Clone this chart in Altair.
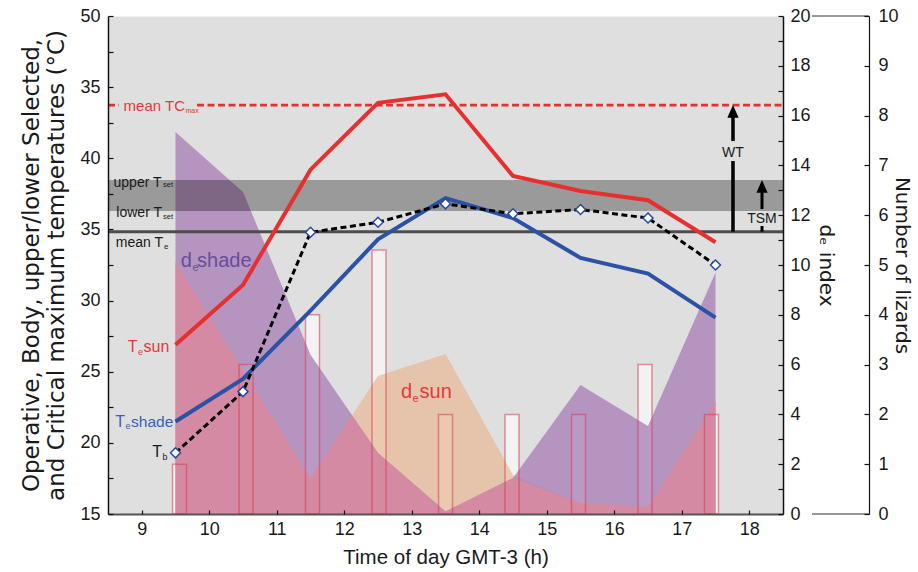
import altair as alt
import pandas as pd

# ---------------- data ----------------
hours = [9.5, 10.5, 11.5, 12.5, 13.5, 14.5, 15.5, 16.5, 17.5]
te_sun = [26.9, 31.1, 39.2, 43.9, 44.5, 38.75, 37.7, 37.05, 34.1]
te_shade = [21.5, 24.5, 29.3, 34.3, 37.2, 35.8, 33.0, 31.9, 28.8]
t_body = [19.3, 23.6, 34.8, 35.5, 36.8, 36.1, 36.4, 35.8, 32.5]
de_sun = [10.1, 5.78, 1.43, 5.54, 6.43, 1.57, 0.44, 0.28, 4.5]
de_shade = [15.34, 12.93, 6.4, 2.45, 0.1, 1.45, 5.18, 3.53, 9.7]
overlap_hours = [9.5, 10.5, 11.5, 12.11, 12.5, 13.5, 14.5, 15.5, 16.5, 17.5]
de_overlap = [10.1, 5.78, 1.43, 3.95, 2.45, 0.1, 1.45, 0.44, 0.28, 4.5]
n_lizards = [1, 3, 4, 5.3, 2, 2, 2, 3, 2]

tc_max_mean = 43.74
t_set_upper = 38.47
t_set_lower = 36.3
te_mean = 34.84

x_ticks = [9, 10, 11, 12, 13, 14, 15, 16, 17, 18]
temp_labels = [15, 20, 25, 30, 35, 40, 45, 50]
temp_ticks = [15, 17.5, 20, 22.5, 25, 27.5, 30, 32.5, 35, 37.5, 40, 42.5, 45, 47.5, 50]
de_labels = [0, 2, 4, 6, 8, 10, 12, 14, 16, 18, 20]
de_ticks = [0, 1, 2, 3, 4, 5, 6, 7, 8, 9, 10, 11, 12, 13, 14, 15, 16, 17, 18, 19, 20]
liz_ticks = [0, 1, 2, 3, 4, 5, 6, 7, 8, 9, 10]

y_title = ["Operative, Body, upper/lower Selected,", "and Critical maximum temperatures (°C)"]

# ---------------- helpers ----------------
FONT = "Liberation Sans"
XD, TD, DD, LD = [8.5, 18.5], [15, 50], [0, 20], [0, 10]
W, H = 675, 498
INK = "#1a1a1a"


def xenc(field="h", axis=None):
    return alt.X(field, type="quantitative",
                 scale=alt.Scale(domain=XD, nice=False, zero=False), axis=axis)


def yenc(field, dom, axis=None):
    return alt.Y(field, type="quantitative",
                 scale=alt.Scale(domain=dom, nice=False, zero=False), axis=axis)


common_lab = dict(labelFont=FONT, labelFontSize=18, labelColor=INK, grid=False,
                  zindex=1, titleFontWeight="normal", titleColor=INK, labelFlush=False)
tick_only = dict(domain=False, labels=False, title="", grid=False, zindex=1,
                 tickColor="#111111", tickWidth=1.2)

x_lab = alt.Axis(orient="bottom", values=x_ticks, ticks=False, tickSize=0, labelPadding=6,
                 domainColor="#555555", domainWidth=2, title="Time of day GMT-3 (h)",
                 titleFont=FONT, titleFontSize=20.5, titleBaseline="alphabetic",
                 titleAlign="center", titleX=W / 2, titleY=49, **common_lab)
x_tick = alt.Axis(orient="bottom", values=x_ticks, offset=-4, tickSize=4, **tick_only)

y_lab = alt.Axis(orient="left", values=temp_labels,
                 labelExpr="datum.value == 45 ? '35' : datum.label",
                 ticks=False, tickSize=0, labelPadding=8, domainColor="#111111", domainWidth=1.5,
                 title=y_title, titleFont="DejaVu Sans", titleFontSize=23, titleAngle=270,
                 titleAlign="center", titleBaseline="alphabetic", titleX=-70, titleY=H / 2,
                 titleLineHeight=25, **common_lab)
y_tick = alt.Axis(orient="left", values=temp_ticks, offset=-5, tickSize=5, **tick_only)

de_lab = alt.Axis(orient="right", values=de_labels, ticks=False, tickSize=0, labelPadding=7,
                  domainColor="#111111", domainWidth=1.5, title="dₑ index",
                  titleFont="DejaVu Sans", titleFontSize=20, titleAngle=90, titleAlign="center",
                  titleBaseline="alphabetic", titleX=36, titleY=H / 2, **common_lab)
de_tick = alt.Axis(orient="right", values=de_ticks, offset=-5, tickSize=5, **tick_only)

liz_lab = alt.Axis(orient="right", offset=86, values=liz_ticks, ticks=False, tickSize=0,
                   labelPadding=9, domainColor="#111111", domainWidth=1.2,
                   title="Number of lizards", titleFont="DejaVu Sans", titleFontSize=20,
                   titleAngle=90, titleAlign="center", titleBaseline="alphabetic",
                   titleX=26, titleY=H / 2, **common_lab)
liz_tick = alt.Axis(orient="right", offset=81, values=liz_ticks, tickSize=5, **tick_only)

df = pd.DataFrame({"h": hours, "te_sun": te_sun, "te_shade": te_shade, "tb": t_body,
                   "de_sun": de_sun, "de_shade": de_shade, "liz": n_lizards})
ov = pd.DataFrame({"h": overlap_hours, "de": de_overlap})

# ---------------- marks ----------------
bars_fill = alt.Chart(df).mark_bar(size=14, color="#f1f2f1").encode(
    x=xenc(), y=yenc("liz", LD, liz_lab))
area_sun = alt.Chart(df).mark_area(color="#e7bb9a", opacity=0.75).encode(
    x=xenc(), y=yenc("de_sun", DD, de_tick))
area_shade = alt.Chart(df).mark_area(color="#a77cb6", opacity=0.75).encode(
    x=xenc(), y=yenc("de_shade", DD, de_lab))
area_ov = alt.Chart(ov).mark_area(color="#d9899f", opacity=0.85).encode(
    x=xenc(), y=yenc("de", DD))
bars_line = alt.Chart(df).mark_bar(size=14, fill="#ffffff", fillOpacity=0, stroke="#d83a56",
                                   strokeOpacity=0.55, strokeWidth=1.5).encode(
    x=xenc(), y=yenc("liz", LD, liz_tick))

band_df = pd.DataFrame({"x0": [XD[0]], "x1": [XD[1]], "lo": [t_set_lower], "hi": [t_set_upper]})
band = alt.Chart(band_df).mark_rect(color="black", opacity=0.31).encode(
    x=xenc("x0"), x2="x1", y=yenc("lo", TD), y2="hi")

tc_df = pd.DataFrame({"x0": [8.5, 9.819], "x1": [8.663, 18.5], "y": [tc_max_mean, tc_max_mean]})
tc_rule = alt.Chart(tc_df).mark_rule(color="#e5302f", strokeWidth=2.8, strokeDash=[7, 3.5]).encode(
    x=xenc("x0"), x2="x1", y=yenc("y", TD))
te_df = pd.DataFrame({"x0": [XD[0]], "x1": [XD[1]], "y": [te_mean]})
te_rule = alt.Chart(te_df).mark_rule(color="#4d4d4d", strokeWidth=3).encode(
    x=xenc("x0"), x2="x1", y=yenc("y", TD))

line_sun = alt.Chart(df).mark_line(color="#e6302f", strokeWidth=4).encode(
    x=xenc(axis=x_lab), y=yenc("te_sun", TD, y_lab))
line_shade = alt.Chart(df).mark_line(color="#2c52a5", strokeWidth=4).encode(
    x=xenc(axis=x_tick), y=yenc("te_shade", TD, y_tick))
line_tb = alt.Chart(df).mark_line(color="black", strokeWidth=3, strokeDash=[6, 3.5]).encode(
    x=xenc(), y=yenc("tb", TD))
pts_tb = alt.Chart(df).mark_point(shape="diamond", size=100, filled=True, fill="white",
                                  stroke="#2a4aa0", strokeWidth=1.5, opacity=1).encode(
    x=xenc(), y=yenc("tb", TD))

# arrows (WT and TSM)
shaft_wt = pd.DataFrame({"x": [17.759, 17.759], "y0": [te_mean, 41.21], "y1": [39.81, 43.0]})
shaft_tsm = pd.DataFrame({"x": [18.189, 18.189], "y0": [te_mean, 36.43], "y1": [35.24, 38.0]})
wt_rule = alt.Chart(shaft_wt).mark_rule(color="black", strokeWidth=3.5).encode(
    x=xenc("x"), y=yenc("y0", TD), y2="y1")
tsm_rule = alt.Chart(shaft_tsm).mark_rule(color="black", strokeWidth=3).encode(
    x=xenc("x"), y=yenc("y0", TD), y2="y1")
heads_df = pd.DataFrame({"x": [17.759, 18.189], "y": [tc_max_mean, t_set_upper]})
heads = alt.Chart(heads_df).mark_point(shape="M0,0L-0.7,1.6L0.7,1.6Z", size=256, filled=True,
                                       color="black", opacity=1).encode(
    x=xenc("x"), y=yenc("y", TD))


def text_layer(rows, dom, size, color, align, font=FONT):
    d = pd.DataFrame(rows, columns=["t", "x", "y"])
    return alt.Chart(d).mark_text(align=align, baseline="alphabetic", fontSize=size,
                                  color=color, font=font).encode(
        x=xenc("x"), y=yenc("y", dom), text=alt.Text("t", type="nominal"))


RED, BLUE, PURPLE = "#e23a3a", "#3a5fb0", "#6a4c9c"
texts = [
    text_layer([("mean TC", 9.641, 43.29)], TD, 15, RED, "right"),
    text_layer([("max", 9.648, 43.15)], TD, 7, RED, "left"),
    text_layer([("upper T", 9.293, 37.98), ("lower T", 9.3, 35.87), ("mean T", 9.315, 33.73)],
               TD, 14, INK, "right"),
    text_layer([("set", 9.315, 37.95), ("set", 9.315, 35.73)], TD, 7.5, INK, "left"),
    text_layer([("e", 9.33, 33.59)], TD, 8, INK, "left"),
    text_layer([("T", 8.937, 26.385)], TD, 16, RED, "right"),
    text_layer([("e", 8.944, 26.14)], TD, 9, RED, "left"),
    text_layer([("sun", 9.026, 26.385)], TD, 16, RED, "left"),
    text_layer([("T", 8.752, 21.11)], TD, 16, BLUE, "right"),
    text_layer([("e", 8.759, 21.0)], TD, 9, BLUE, "left"),
    text_layer([("shade", 8.841, 21.11)], TD, 15.5, BLUE, "left"),
    text_layer([("T", 9.3, 19.0)], TD, 16, INK, "right"),
    text_layer([("b", 9.307, 18.8)], TD, 9, INK, "left"),
    text_layer([("WT", 17.759, 40.09), ("TSM", 18.189, 35.45)], TD, 14, INK, "center"),
    text_layer([("d", 9.744, 9.92)], DD, 20, PURPLE, "right"),
    text_layer([("e", 9.752, 9.74)], DD, 11, PURPLE, "left"),
    text_layer([("shade", 9.819, 9.92)], DD, 20, PURPLE, "left"),
    text_layer([("d", 13.004, 4.66)], DD, 20, RED, "right"),
    text_layer([("e", 13.011, 4.48)], DD, 11, RED, "left"),
    text_layer([("sun", 13.115, 4.66)], DD, 20, RED, "left"),
]

# frame lines joining the two right-hand axes
frame_df = pd.DataFrame({"k": [0]})
frame_top = alt.Chart(frame_df).mark_rule(color="#333333", strokeWidth=1.2).encode(
    x=alt.value(704), x2=alt.value(761), y=alt.value(0))
frame_bot = alt.Chart(frame_df).mark_rule(color="#333333", strokeWidth=1.2).encode(
    x=alt.value(704), x2=alt.value(761), y=alt.value(H))

layers = [bars_fill, area_sun, area_shade, area_ov, bars_line, band, tc_rule, te_rule,
          line_sun, line_shade, line_tb, pts_tb, wt_rule, tsm_rule, heads] + texts + \
         [frame_top, frame_bot]

chart = alt.layer(*layers).resolve_scale(x="independent", y="independent").properties(
    width=W, height=H,
    padding={"left": 108, "top": 16, "right": 135, "bottom": 58},
    autosize=alt.AutoSizeParams(type="none"),
    background="white",
).configure_view(fill="#dedfde", stroke="transparent")

chart.save("out.html", embed_options={"renderer": "svg", "actions": False})
